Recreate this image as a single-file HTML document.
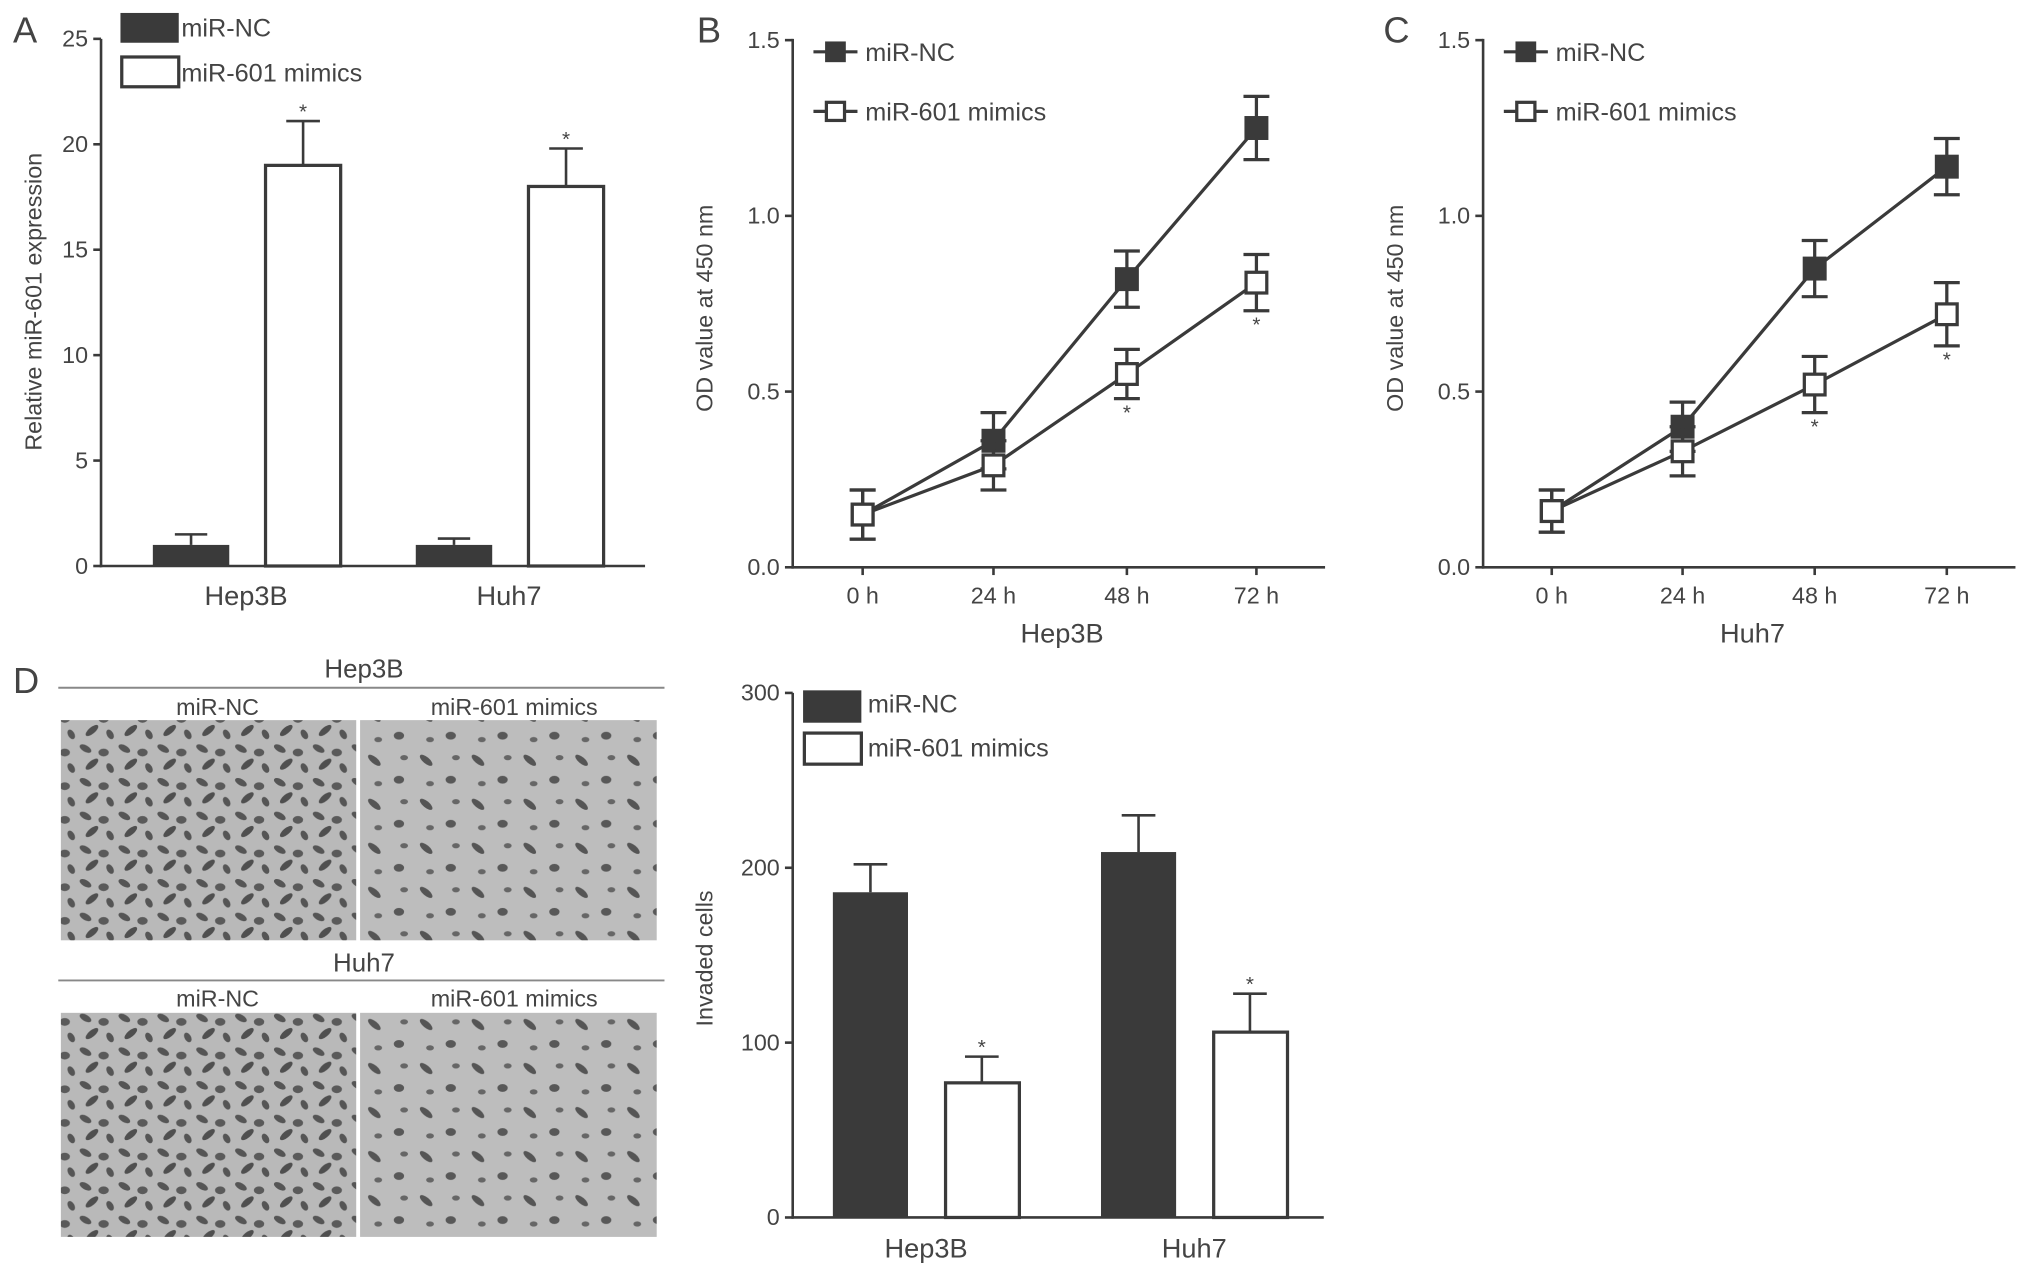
<!DOCTYPE html>
<html><head><meta charset="utf-8"><style>
html,body{margin:0;padding:0;background:#fff;}
svg{display:block;}
text{font-family:"Liberation Sans",sans-serif;fill:#444;}
</style></head><body>
<svg id="fig" width="2031" height="1279" viewBox="0 0 1568 987.5" preserveAspectRatio="none" xmlns="http://www.w3.org/2000/svg">
<defs>
<pattern id="cellsA" width="30" height="26" patternUnits="userSpaceOnUse">
<rect width="30" height="26" fill="#b9b9b9"/>
<ellipse cx="6" cy="6" rx="5" ry="2.5" fill="#555" transform="rotate(30 6 6)"/>
<ellipse cx="20" cy="9" rx="4" ry="3" fill="#5a5a5a"/>
<ellipse cx="11" cy="18" rx="6" ry="2.5" fill="#4f4f4f" transform="rotate(-40 11 18)"/>
<ellipse cx="25" cy="21" rx="4" ry="2.5" fill="#555" transform="rotate(60 25 21)"/>
</pattern>
<pattern id="cellsB" width="40" height="34" patternUnits="userSpaceOnUse">
<rect width="40" height="34" fill="#bdbdbd"/>
<ellipse cx="9" cy="9" rx="6" ry="2.5" fill="#555" transform="rotate(40 9 9)"/>
<ellipse cx="28" cy="24" rx="4" ry="3" fill="#585858"/>
<ellipse cx="32" cy="7" rx="3" ry="2" fill="#666"/>
<ellipse cx="12" cy="27" rx="3" ry="2" fill="#666"/>
</pattern>
</defs>
<g id="root"></g>
</svg>
<script>
// Panel A data
const aGroups = ["Hep3B", "Huh7"];
const aNC = [1.0, 1.0];
const aNCerr = [0.5, 0.3];
const aMim = [19.0, 18.0];
const aMimErr = [2.1, 1.8];
const aTicks = [0, 5, 10, 15, 20, 25];
// Panel B data
const timeLabels = ["0 h", "24 h", "48 h", "72 h"];
const bNC = [0.15, 0.36, 0.82, 1.25];
const bNCerr = [0.07, 0.08, 0.08, 0.09];
const bMim = [0.15, 0.29, 0.55, 0.81];
const bMimErr = [0.07, 0.07, 0.07, 0.08];
const odTicks = [0.0, 0.5, 1.0, 1.5];
// Panel C data
const cNC = [0.16, 0.40, 0.85, 1.14];
const cNCerr = [0.06, 0.07, 0.08, 0.08];
const cMim = [0.16, 0.33, 0.52, 0.72];
const cMimErr = [0.06, 0.07, 0.08, 0.09];
// Panel D data
const dGroups = ["Hep3B", "Huh7"];
const dNC = [186, 209];
const dNCerr = [16, 21];
const dMim = [77, 106];
const dMimErr = [15, 22];
const dTicks = [0, 100, 200, 300];

const NS = "http://www.w3.org/2000/svg";
const root = document.getElementById('root');
const C = "#3a3a3a";
const LF = 19.5, TF = 18, AF = 18;
function mk(tag, attrs, parent, txt) {
  const e = document.createElementNS(NS, tag);
  for (const k in attrs) e.setAttribute(k, attrs[k]);
  if (txt !== undefined) e.textContent = txt;
  (parent || root).appendChild(e);
  return e;
}
function line(x1,y1,x2,y2,p,w){return mk('line',{x1,y1,x2,y2,stroke:C,'stroke-width':w||2},p);}
function txt(x,y,s,size,anchor,p,rot){
  const a={x,y,'font-size':size,'text-anchor':anchor||'middle'};
  if(rot) a.transform=`rotate(-90 ${x} ${y})`;
  return mk('text',a,p,s);
}

[["A",10,33],["B",538,33],["C",1068,33],["D",10,535]].forEach(l=>{
  const t=txt(l[1],l[2],l[0],28,'start');
  
  
});

// ---------- Panel A ----------
(function(){
  const g = mk('g',{});
  
  
  const y = v => 437 - v/25*407;
  line(78,30,78,438,g); line(77,437,498,437,g);
  aTicks.forEach(t=>{ line(72,y(t),78,y(t),g); const e=txt(68,y(t)+6,String(t),TF,'end',g);
      });
  const yt=txt(32,233,"Relative miR-601 expression",AF,'middle',g,true);
   
  const gx=[118,321];
  aGroups.forEach((name,i)=>{
    const b1=mk('rect',{x:gx[i],y:y(aNC[i]),width:59,height:437-y(aNC[i]),fill:C},g);
     
    line(gx[i]+29.5,y(aNC[i]),gx[i]+29.5,y(aNC[i]+aNCerr[i]),g); line(gx[i]+17,y(aNC[i]+aNCerr[i]),gx[i]+42,y(aNC[i]+aNCerr[i]),g);
    const mx=gx[i]+87;
    const b2=mk('rect',{x:mx,y:y(aMim[i]),width:58,height:437-y(aMim[i]),fill:'#fff',stroke:C,'stroke-width':2.5},g);
     
    const top=y(aMim[i]+aMimErr[i]);
    line(mx+29,y(aMim[i]),mx+29,top,g); line(mx+16,top,mx+42,top,g);
    txt(mx+29,top-2,"*",16,'middle',g);
    const xl=txt(gx[i]+72,467,name,21,'middle',g);
     
  });
  const l1=mk('rect',{x:93,y:10,width:45,height:23,fill:C},g);
   
  const l2=mk('rect',{x:94,y:44,width:44,height:23,fill:'#fff',stroke:C,'stroke-width':2.5},g);
   
  const t1=txt(140,28,"miR-NC",LF,'start',g);  
  const t2=txt(140,63,"miR-601 mimics",LF,'start',g);  
})();

// ---------- Line panels ----------
function linePanel(id, ax, xs, nc, ncErr, mim, mimErr, title, starIdx){
  const g = mk('g',{});
  
  
  const y = v => 438 - v/1.5*407;
  line(ax,30,ax,439,g); line(ax-1,438,ax+411,438,g);
  odTicks.forEach(t=>{ line(ax-6,y(t),ax,y(t),g); const e=txt(ax-10,y(t)+6,t.toFixed(1),TF,'end',g);
      });
  timeLabels.forEach((l,i)=>{ line(xs[i],438,xs[i],444,g); const e=txt(xs[i],466,l,TF,'middle',g);
      });
  const tt=txt(ax+208,496,title,21,'middle',g);  
  const yt=txt(ax-62,238,"OD value at 450 nm",AF,'middle',g,true);  
  function series(vals,errs,filled,name){
    const pts=vals.map((v,i)=>xs[i]+','+y(v)).join(' ');
    const pl=mk('polyline',{points:pts,fill:'none',stroke:C,'stroke-width':2.5},g);
     
    vals.forEach((v,i)=>{
      const t=y(v+errs[i]), b=y(v-errs[i]);
      line(xs[i],t,xs[i],b,g,2.5); line(xs[i]-10,t,xs[i]+10,t,g,2.5); line(xs[i]-10,b,xs[i]+10,b,g,2.5);
      const r=mk('rect',{x:xs[i]-8,y:y(v)-8,width:16,height:16,fill:filled?C:'#fff',stroke:C,'stroke-width':2.5},g);
       
      if(!filled && starIdx.includes(i)) txt(xs[i],b+16,"*",16,'middle',g);
    });
  }
  series(nc,ncErr,true,'nc'); series(mim,mimErr,false,'mimics');
  const lx=ax+16;
  line(lx,40,lx+34,40,g,2.5); mk('rect',{x:lx+9,y:32,width:16,height:16,fill:C},g);
  line(lx,86,lx+34,86,g,2.5); mk('rect',{x:lx+10,y:79,width:14,height:14,fill:'#fff',stroke:C,'stroke-width':2.5},g);
  const a=txt(lx+40,47,"miR-NC",LF,'start',g);  
  const b=txt(lx+40,93,"miR-601 mimics",LF,'start',g);  
}
linePanel('panel-b-line-chart',612,[666,767,870,970],bNC,bNCerr,bMim,bMimErr,"Hep3B",[2,3]);
linePanel('panel-c-line-chart',1145,[1198,1299,1401,1503],cNC,cNCerr,cMim,cMimErr,"Huh7",[2,3]);

// ---------- Micrographs ----------
(function(){
  const g = mk('g',{});
  
  
  [[523,531,552,556,726,"Hep3B"],[750,757,777,782,955,"Huh7"]].forEach(r=>{
    txt(281,r[0],r[5],20,'middle',g);
    mk('line',{x1:45,y1:r[1],x2:513,y2:r[1],stroke:'#888','stroke-width':1.5},g);
    txt(168,r[2],"miR-NC",18,'middle',g);
    txt(397,r[2],"miR-601 mimics",18,'middle',g);
    const i1=mk('rect',{x:47,y:r[3],width:228,height:r[4]-r[3],fill:'url(#cellsA)'},g);
     
    const i2=mk('rect',{x:278,y:r[3],width:229,height:r[4]-r[3],fill:'url(#cellsB)'},g);
     
  });
})();

// ---------- Panel D bar chart ----------
(function(){
  const g = mk('g',{});
  
  
  const y = v => 940 - v/300*405;
  line(612,535,612,941,g); line(611,940,1022,940,g);
  dTicks.forEach(t=>{ line(606,y(t),612,y(t),g); const e=txt(602,y(t)+6,String(t),TF,'end',g);
      });
  const yt=txt(550,740,"Invaded cells",AF,'middle',g,true);  
  const gx=[643,850];
  dGroups.forEach((name,i)=>{
    const b1=mk('rect',{x:gx[i],y:y(dNC[i]),width:58,height:940-y(dNC[i]),fill:C},g);
     
    const t1=y(dNC[i]+dNCerr[i]);
    line(gx[i]+29,y(dNC[i]),gx[i]+29,t1,g); line(gx[i]+16,t1,gx[i]+42,t1,g);
    const mx=gx[i]+87;
    const b2=mk('rect',{x:mx,y:y(dMim[i]),width:57,height:940-y(dMim[i]),fill:'#fff',stroke:C,'stroke-width':2.5},g);
     
    const t2=y(dMim[i]+dMimErr[i]);
    line(mx+28,y(dMim[i]),mx+28,t2,g); line(mx+15,t2,mx+41,t2,g);
    txt(mx+28,t2-2,"*",16,'middle',g);
    const xl=txt(gx[i]+72,971,name,21,'middle',g);
     
  });
  mk('rect',{x:620,y:533,width:45,height:25,fill:C},g);
  mk('rect',{x:621,y:566,width:44,height:24,fill:'#fff',stroke:C,'stroke-width':2.5},g);
  const a=txt(670,550,"miR-NC",LF,'start',g);  
  const b=txt(670,584,"miR-601 mimics",LF,'start',g);  
})();
</script>
</body></html>
